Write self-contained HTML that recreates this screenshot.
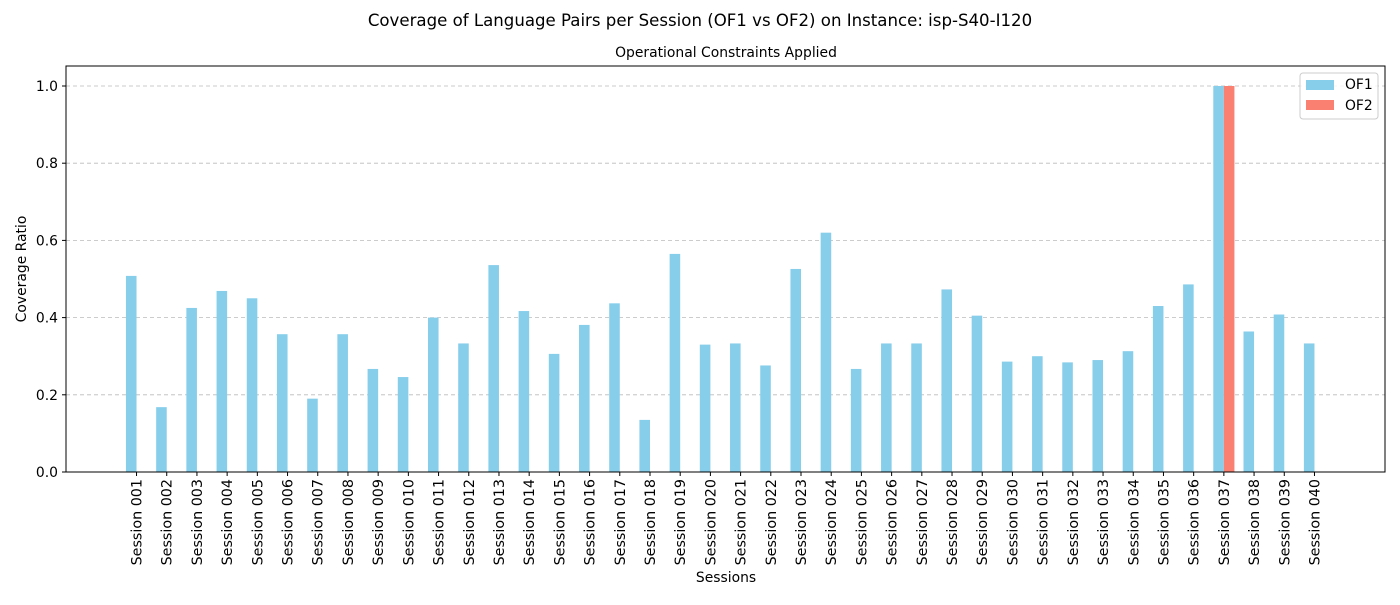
<!DOCTYPE html>
<html><head><meta charset="utf-8"><style>
body{margin:0;background:#fff;font-family:"Liberation Sans","DejaVu Sans",sans-serif;}
svg text{font-family:"DejaVu Sans","Liberation Sans",sans-serif;fill:#000;}
</style></head><body>
<svg id="chart" width="1400" height="600" xmlns="http://www.w3.org/2000/svg">
<text x="700" y="26" text-anchor="middle" font-size="16.6">Coverage of Language Pairs per Session (OF1 vs OF2) on Instance: isp-S40-I120</text>
<text x="726" y="57" text-anchor="middle" font-size="13.9">Operational Constraints Applied</text>
<g id="grid"></g><g id="bars"></g><g id="axes"></g>
<rect x="66" y="66" width="1319" height="406" fill="none" stroke="#000" stroke-width="1"/>
<text x="726" y="582" text-anchor="middle" font-size="13.9">Sessions</text>
<text transform="translate(26,269) rotate(-90)" text-anchor="middle" font-size="13.9">Coverage Ratio</text>
<g>
<rect x="1300" y="73" width="78" height="46" rx="3" fill="#fff" fill-opacity="0.8" stroke="#ccc"/>
<rect x="1306" y="80" width="28" height="10" fill="#87CEEB"/>
<text x="1345" y="89" font-size="13.9">OF1</text>
<rect x="1306" y="100" width="28" height="10" fill="#FA8072"/>
<text x="1345" y="110" font-size="13.9">OF2</text>
</g>
</svg>
<script>
const categories = Array.from({length:40},(_,i)=>"Session "+String(i+1).padStart(3,"0"));
const of1Values = [0.508,0.168,0.425,0.469,0.45,0.357,0.19,0.357,0.267,0.246,0.4,0.333,0.536,0.417,0.306,0.381,0.437,0.135,0.565,0.33,0.333,0.276,0.526,0.62,0.267,0.333,0.333,0.473,0.405,0.286,0.3,0.284,0.29,0.313,0.43,0.486,1.0,0.364,0.408,0.333];
const of2Values = [0,0,0,0,0,0,0,0,0,0,0,0,0,0,0,0,0,0,0,0,0,0,0,0,0,0,0,0,0,0,0,0,0,0,0,0,1.0,0,0,0];
const yTicks = [0,0.2,0.4,0.6,0.8,1.0];
const NS="http://www.w3.org/2000/svg";
const n=categories.length, bw=0.35;
const xmin=-bw-0.05*(n-1+2*bw), xmax=n-1+bw+0.05*(n-1+2*bw);
const X=v=>66+(v-xmin)/(xmax-xmin)*1319;
const Y=v=>472-v/1.0518*406;
function mk(tag,attrs,parent){const e=document.createElementNS(NS,tag);for(const k in attrs)e.setAttribute(k,attrs[k]);parent.appendChild(e);return e;}
const grid=document.getElementById('grid'),bars=document.getElementById('bars'),axes=document.getElementById('axes');
yTicks.forEach(t=>{
 const l=mk('line',{x1:66,x2:1385,y1:Y(t),y2:Y(t),stroke:'#bbb','stroke-dasharray':'4,3','stroke-width':0.8},grid);
 
 
 mk('line',{x1:62,x2:66,y1:Y(t),y2:Y(t),stroke:'#000'},axes);
 const tx=mk('text',{x:58,y:Y(t)+5,'text-anchor':'end','font-size':13.9},axes);
 tx.textContent=t.toFixed(1);
 
 
});
categories.forEach((c,i)=>{
 const w=X(bw)-X(0);
 const r1=mk('rect',{x:X(i-bw),y:Y(of1Values[i]),width:w,height:Y(0)-Y(of1Values[i]),fill:'#87CEEB'},bars);
 
 
 const r2=mk('rect',{x:X(i),y:Y(of2Values[i]),width:w,height:Y(0)-Y(of2Values[i]),fill:'#FA8072'},bars);
 
 
 mk('line',{x1:X(i),x2:X(i),y1:472,y2:476,stroke:'#000'},axes);
 const tx=mk('text',{transform:`translate(${X(i)+5},479) rotate(-90)`,'text-anchor':'end','font-size':14.3},axes);
 tx.textContent=c;
 
 
});
</script>
</body></html>
